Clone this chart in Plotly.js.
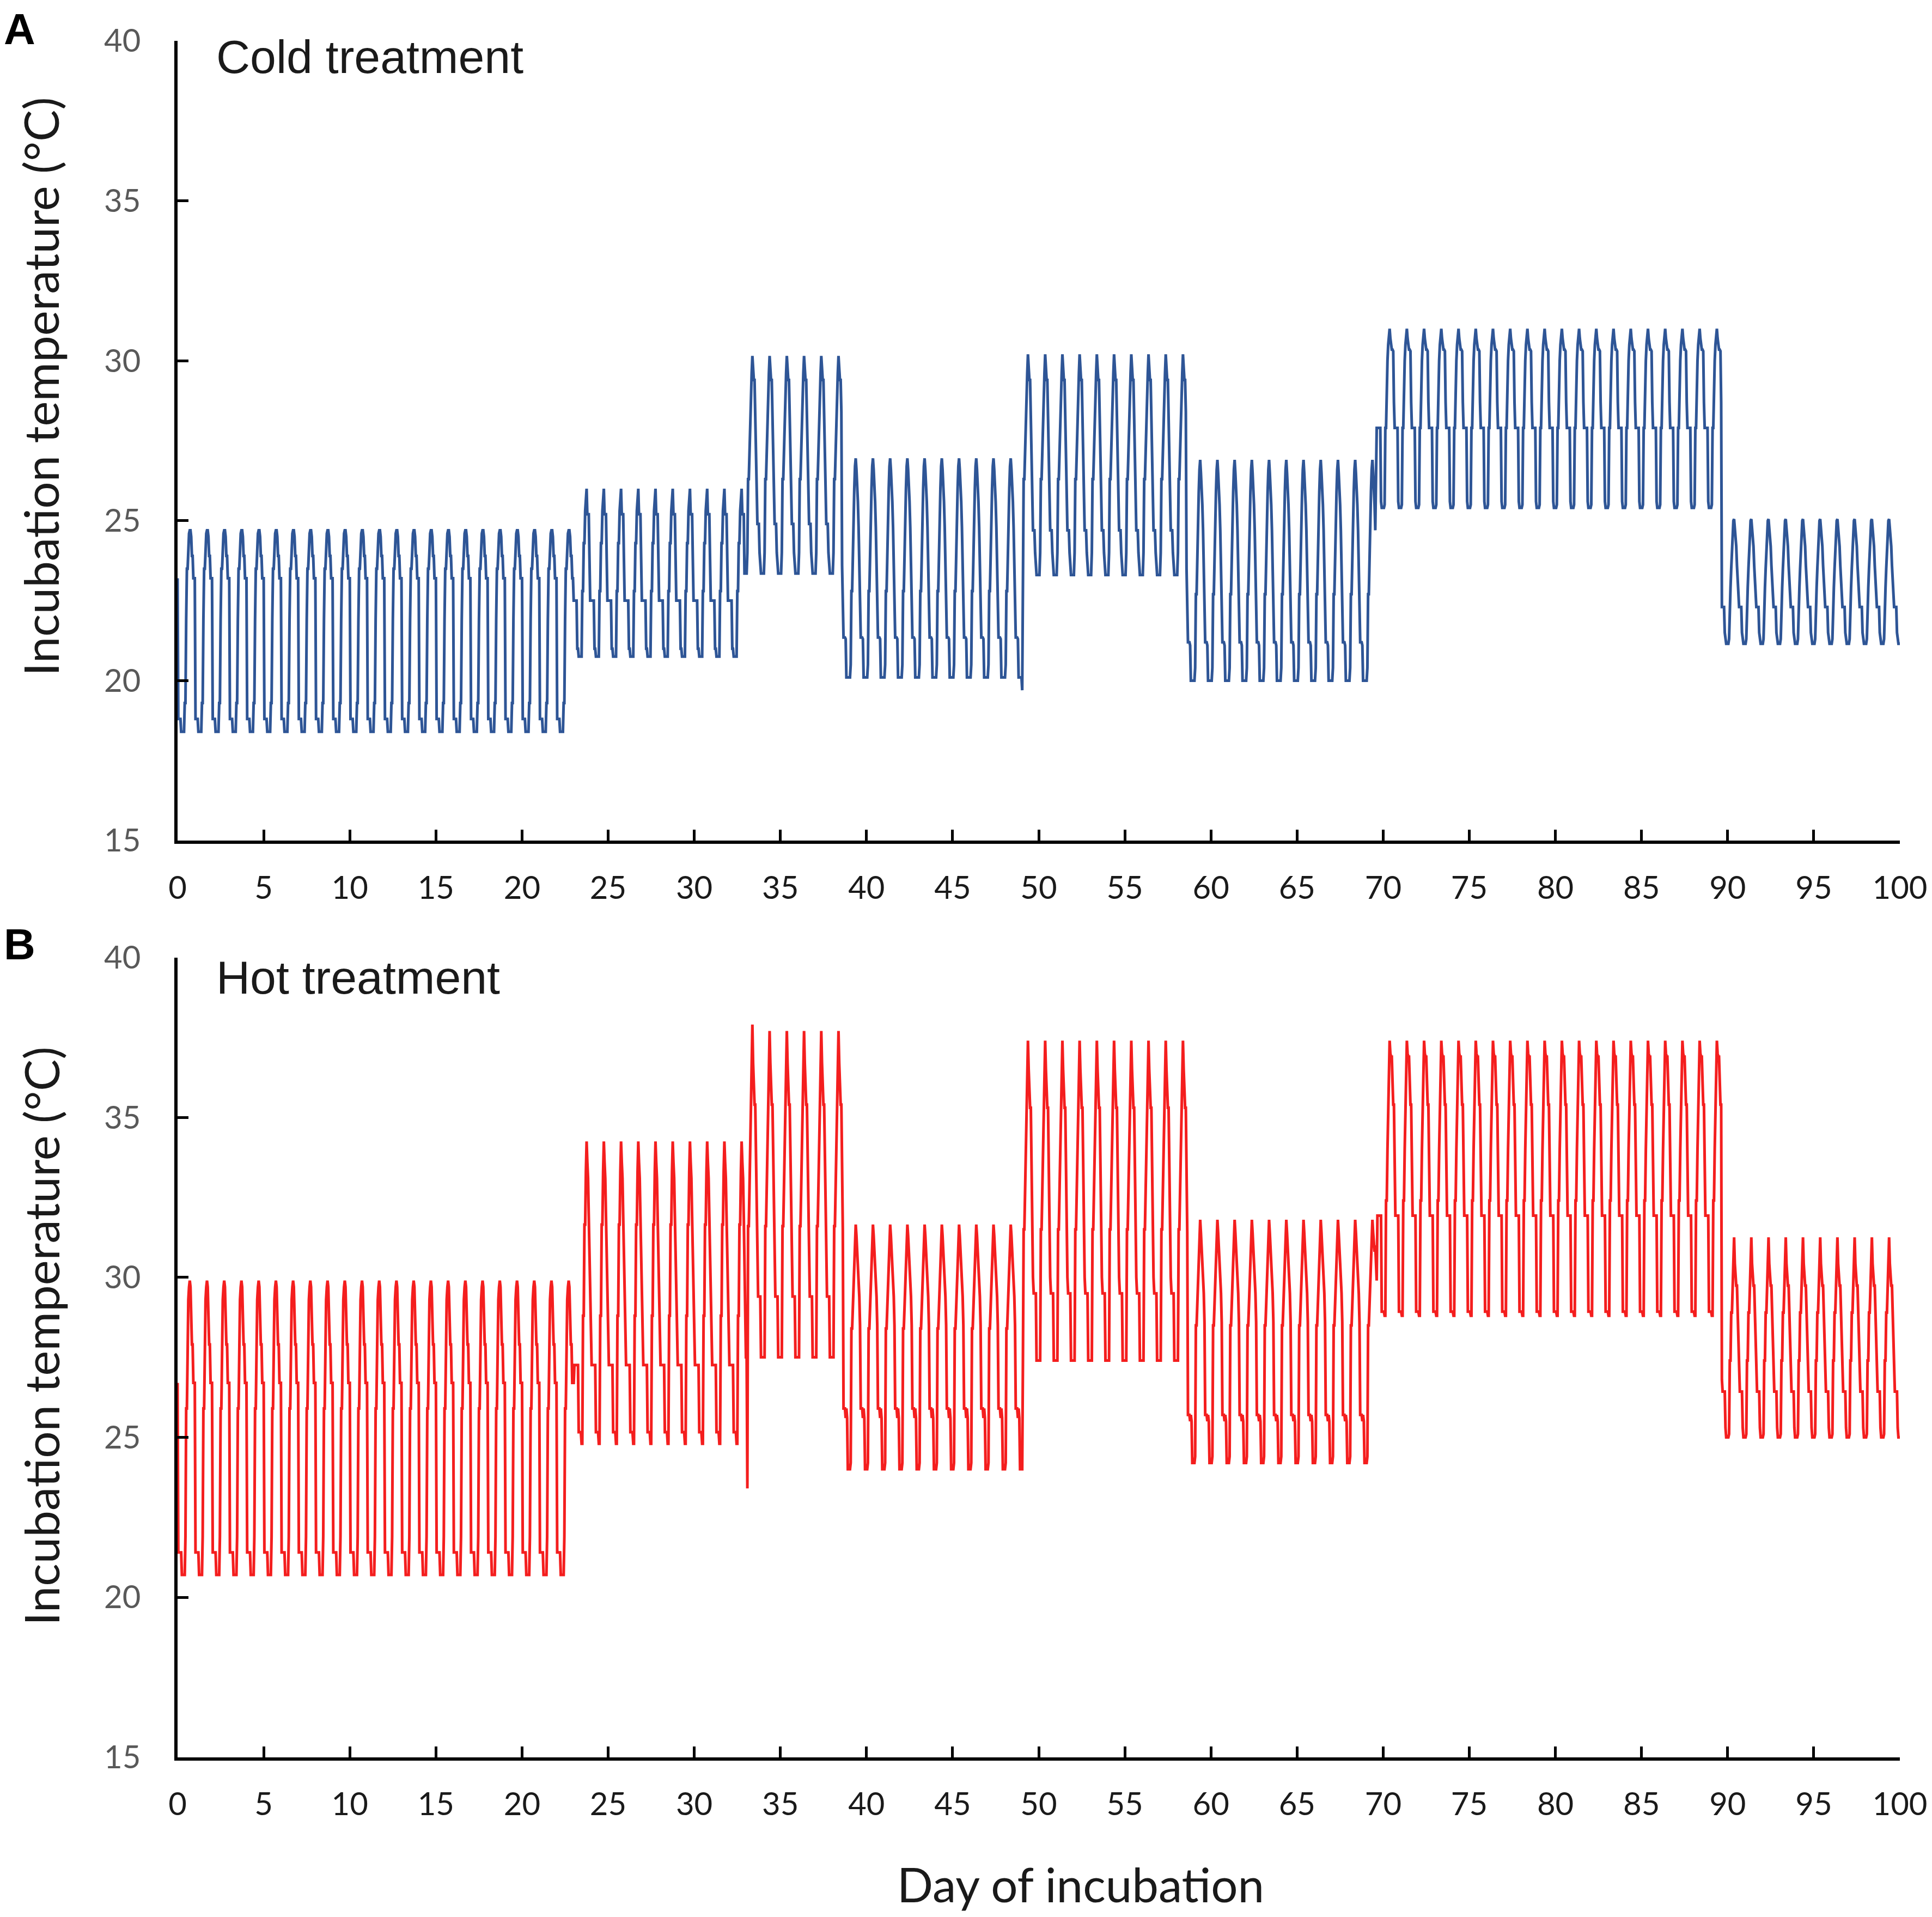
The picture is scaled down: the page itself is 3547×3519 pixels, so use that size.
<!DOCTYPE html>
<html>
<head>
<meta charset="utf-8">
<script src="https://cdn.plot.ly/plotly-3.0.1.min.js"></script>
<style>html,body{margin:0;padding:0;background:#fff;}#chart{width:3547px;height:3519px;}</style>
</head>
<body>
<div id="chart"></div>
<script>
// ---- Data: hourly daily profiles (hour 0..23) per temperature regime ----
// Cold treatment
const coldSeg1 = [23.2, 18.8, 18.8, 18.8, 18.8, 18.4, 18.4, 18.4, 18.4, 18.4, 19.3, 19.3, 21.9, 23.5, 23.5, 24.5, 24.6, 24.7, 24.7, 24.5, 23.9, 23.9, 23.2, 23.2];
const coldSeg2 = [22.5, 22.5, 22.5, 22.5, 22.5, 21.0, 21.0, 20.75, 20.75, 20.75, 20.75, 20.75, 22.8, 22.8, 24.3, 24.3, 25.3, 25.9, 26.0, 25.2, 25.2, 25.2, 23.8, 22.5];
const coldSeg3 = [23.35, 23.35, 24.0, 26.3, 26.3, 27.3, 28.2, 28.8, 29.6, 30.15, 29.8, 29.4, 29.4, 28.4, 27.3, 26.0, 24.9, 24.9, 24.9, 24.0, 23.4, 23.35, 23.35, 23.35];
const coldSeg4 = [20.1, 20.1, 20.5, 22.8, 22.8, 24.3, 25.2, 26.0, 26.7, 26.95, 26.6, 26.2, 25.6, 24.8, 23.6, 22.4, 21.35, 21.35, 21.35, 21.3, 20.1, 20.1, 20.1, 20.1];
const coldSeg5 = [23.3, 23.3, 24.0, 26.3, 26.3, 27.3, 28.2, 28.8, 29.6, 30.2, 29.8, 29.4, 29.4, 28.4, 27.3, 26.0, 24.7, 24.7, 24.7, 24.0, 23.4, 23.3, 23.3, 23.3];
const coldSeg6 = [20.0, 20.0, 20.4, 22.7, 22.7, 24.2, 25.1, 25.9, 26.6, 26.9, 26.5, 26.1, 25.5, 24.7, 23.5, 22.3, 21.2, 21.2, 21.2, 21.1, 20.0, 20.0, 20.0, 20.0];
const coldSeg7 = [25.4, 25.4, 25.5, 27.9, 27.9, 29.4, 30.0, 30.5, 30.9, 31.0, 30.7, 30.5, 30.35, 30.35, 30.3, 28.7, 27.9, 27.9, 27.9, 27.9, 27.9, 25.6, 25.4, 25.4];
const coldSeg8 = [21.15, 21.15, 21.3, 22.4, 22.9, 23.5, 24.2, 24.7, 25.0, 25.05, 24.8, 24.5, 24.2, 23.6, 23.0, 22.6, 22.3, 22.3, 22.3, 22.3, 21.5, 21.2, 21.15, 21.15];
const coldStartHours = [0, 552, 790, 926, 1178, 1406, 1672, 2152];
const coldSpikes = [[1177, 19.7], [1670, 26.0], [1671, 27.9]];

// Hot treatment
const hotSeg1 = [26.7, 21.4, 21.4, 21.4, 21.4, 21.4, 20.7, 20.7, 20.7, 20.7, 20.7, 21.9, 25.9, 25.9, 28.9, 29.3, 29.7, 29.9, 29.7, 28.9, 27.9, 27.9, 26.7, 26.7];
const hotSeg2 = [28.3, 27.26, 27.26, 27.26, 27.26, 27.26, 27.26, 25.16, 25.16, 25.16, 25.16, 24.8, 24.8, 28.8, 28.8, 31.65, 31.65, 33.3, 34.25, 33.6, 33.1, 31.9, 30.6, 29.4];
const hotSeg3 = [27.5, 27.5, 27.5, 31.6, 31.6, 32.8, 34.0, 35.2, 36.3, 37.7, 36.7, 35.9, 35.4, 35.4, 33.5, 31.5, 30.0, 29.4, 29.4, 29.4, 29.4, 27.5, 27.5, 27.5];
const hotSeg4 = [24.0, 24.0, 24.2, 28.4, 28.4, 29.2, 30.0, 30.8, 31.3, 31.65, 31.3, 30.8, 30.75, 30.2, 29.4, 28.5, 25.9, 25.9, 25.9, 25.6, 25.9, 25.6, 24.0, 24.0];
const hotSeg5 = [27.4, 27.4, 27.4, 31.5, 31.5, 32.7, 33.9, 35.0, 36.2, 37.4, 36.5, 35.8, 35.3, 35.3, 33.4, 31.4, 30.0, 29.5, 29.5, 29.5, 29.5, 27.4, 27.4, 27.4];
const hotSeg6 = [24.2, 24.2, 24.4, 28.5, 28.5, 29.3, 30.1, 30.9, 31.4, 31.8, 31.4, 30.9, 30.8, 30.3, 29.5, 28.6, 25.7, 25.7, 25.7, 25.5, 25.7, 25.5, 24.2, 24.2];
const hotSeg7 = [28.93, 28.93, 28.8, 28.8, 32.4, 32.4, 34.0, 35.5, 36.6, 37.4, 37.0, 36.9, 36.9, 36.0, 35.4, 35.4, 32.9, 31.93, 31.93, 31.93, 31.93, 31.93, 28.93, 28.93];
const hotSeg8 = [25.0, 25.0, 25.1, 27.4, 27.4, 28.9, 28.9, 29.8, 30.6, 31.25, 30.43, 30.0, 29.74, 29.74, 28.8, 27.9, 26.8, 26.43, 26.43, 26.43, 26.43, 25.3, 25.0, 25.0];
const hotStartHours = [0, 553, 792, 928, 1178, 1408, 1673, 2152];
const hotSpikes = [[794, 23.4], [801, 37.9], [1669, 31.0], [1670, 30.6], [1671, 29.9], [1672, 31.93]];

const xTickVals = [0, 5, 10, 15, 20, 25, 30, 35, 40, 45, 50, 55, 60, 65, 70, 75, 80, 85, 90, 95, 100];
const yTickVals = [15, 20, 25, 30, 35, 40];
const totalHours = 2400;

// ---- Build hourly series from the regime schedule ----
function buildSeries(starts, profiles, spikes) {
  const ov = new Map(spikes);
  const x = [], y = [];
  let s = 0;
  for (let t = 0; t <= totalHours; t++) {
    while (s + 1 < starts.length && starts[s + 1] <= t) s++;
    x.push(t / 24);
    y.push(ov.has(t) ? ov.get(t) : profiles[s][t % 24]);
  }
  return {x, y};
}
const cold = buildSeries(coldStartHours, [coldSeg1, coldSeg2, coldSeg3, coldSeg4, coldSeg5, coldSeg6, coldSeg7, coldSeg8], coldSpikes);
const hot = buildSeries(hotStartHours, [hotSeg1, hotSeg2, hotSeg3, hotSeg4, hotSeg5, hotSeg6, hotSeg7, hotSeg8], hotSpikes);

const W = 3547, H = 3519;
const px = v => v / W;
const py = v => 1 - v / H;

const traces = [
  {type: 'scatter', mode: 'lines', x: cold.x, y: cold.y, xaxis: 'x', yaxis: 'y',
   line: {color: '#2E5596', width: 5}, hoverinfo: 'skip'},
  {type: 'scatter', mode: 'lines', x: hot.x, y: hot.y, xaxis: 'x2', yaxis: 'y2',
   line: {color: '#F41E1E', width: 5}, hoverinfo: 'skip'}
];

function xAxis(anchor) {
  return {
    domain: [px(326), px(3488)], range: [0, 100], anchor: anchor,
    tickmode: 'array', tickvals: xTickVals,
    showline: true, linecolor: '#000', linewidth: 6,
    ticks: 'inside', ticklen: 20, tickwidth: 5, tickcolor: '#000',
    showgrid: false, zeroline: false,
    tickfont: {family: 'Lato, sans-serif', size: 58, color: '#1a1a1a'},
    ticklabelstandoff: 31
  };
}
function yAxis(anchor, top, bottom) {
  return {
    domain: [py(bottom), py(top)], range: [15, 40], anchor: anchor,
    tickmode: 'array', tickvals: yTickVals,
    showline: true, linecolor: '#000', linewidth: 6,
    ticks: 'inside', ticklen: 20, tickwidth: 5, tickcolor: '#000',
    showgrid: false, zeroline: false,
    tickfont: {family: 'Lato, sans-serif', size: 58, color: '#595959'},
    ticklabelstandoff: 50
  };
}

const txtFont = {family: 'Liberation Sans, Arial, sans-serif', size: 86, color: '#1a1a1a'};
const titleFont = {family: 'Lato, sans-serif', size: 87, color: '#1a1a1a'};

const layout = {
  width: W, height: H,
  margin: {l: 0, r: 0, t: 0, b: 0},
  paper_bgcolor: '#fff', plot_bgcolor: '#fff',
  showlegend: false,
  xaxis: xAxis('y'),
  yaxis: yAxis('x', 75, 1543),
  xaxis2: xAxis('y2'),
  yaxis2: yAxis('x2', 1757.6, 3225.6),
  annotations: [
    {text: '<b>A</b>', xref: 'paper', yref: 'paper', x: px(6), y: py(8), xanchor: 'left', yanchor: 'top', showarrow: false, borderpad: 0,
     font: {family: 'Liberation Sans, Arial, sans-serif', size: 80, color: '#000'}},
    {text: '<b>B</b>', xref: 'paper', yref: 'paper', x: px(6), y: py(1688), xanchor: 'left', yanchor: 'top', showarrow: false, borderpad: 0,
     font: {family: 'Liberation Sans, Arial, sans-serif', size: 80, color: '#000'}},
    {text: 'Cold treatment', xref: 'paper', yref: 'paper', x: px(396), y: py(104), xanchor: 'left', yanchor: 'middle', showarrow: false, borderpad: 0, font: txtFont},
    {text: 'Hot treatment', xref: 'paper', yref: 'paper', x: px(396), y: py(1794), xanchor: 'left', yanchor: 'middle', showarrow: false, borderpad: 0, font: txtFont},
    {text: 'Incubation temperature (°C)', xref: 'paper', yref: 'paper', x: px(75), y: py(710), xanchor: 'center', yanchor: 'middle', textangle: -90, showarrow: false, borderpad: 0, font: titleFont},
    {text: 'Incubation temperature (°C)', xref: 'paper', yref: 'paper', x: px(75), y: py(2453), xanchor: 'center', yanchor: 'middle', textangle: -90, showarrow: false, borderpad: 0, font: titleFont},
    {text: 'Day of incubation', xref: 'paper', yref: 'paper', x: px(1984), y: py(3458), xanchor: 'center', yanchor: 'middle', showarrow: false, borderpad: 0, font: titleFont}
  ]
};

Plotly.newPlot('chart', traces, layout, {staticPlot: true, displayModeBar: false});
</script>
</body>
</html>
